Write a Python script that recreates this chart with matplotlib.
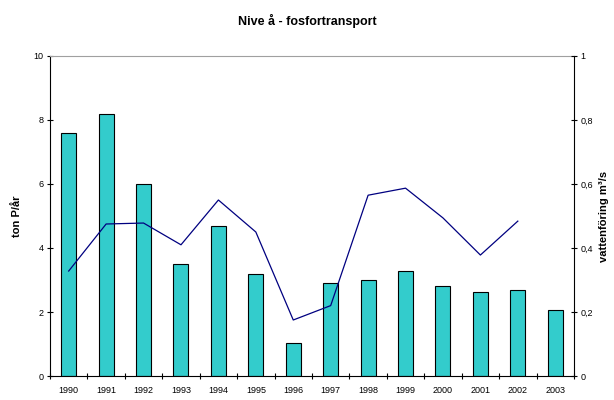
import matplotlib
matplotlib.use("Agg")
import matplotlib.pyplot as plt
import numpy as np

plt.rcParams['font.family'] = ['Liberation Sans', 'DejaVu Sans']

# data
years = ['1990', '1991', '1992', '1993', '1994', '1995', '1996',
         '1997', '1998', '1999', '2000', '2001', '2002', '2003']
fosfor = [7.6, 8.2, 6.0, 3.5, 4.7, 3.2, 1.03, 2.9, 3.0, 3.28, 2.8, 2.62, 2.7, 2.05]   # ton P/år
flow = [0.328, 0.475, 0.478, 0.41, 0.55, 0.45, 0.175, 0.22, 0.565, 0.587,
        0.494, 0.378, 0.484, np.nan]   # m3/s

x = np.arange(len(years))

fig = plt.figure(figsize=(6.14, 4.0), dpi=100)
ax = fig.add_axes([0.0814, 0.06, 0.8534, 0.80])
ax.bar(x, fosfor, width=0.4, color='#33CCCC', edgecolor='black', linewidth=0.8, zorder=2)
ax.set_xlim(-0.5, len(years) - 0.5)
ax.set_ylim(0, 10)
ax.set_yticks([0, 2, 4, 6, 8, 10])
ax.set_xticks(x)
ax.set_xticklabels(years)
ax.set_xticks(np.arange(-0.5, len(years)), minor=True)
ax.tick_params(axis='x', which='major', length=0, labelsize=6.5, pad=7)
ax.tick_params(axis='x', which='minor', direction='inout', length=5, width=0.8)
ax.tick_params(axis='y', direction='inout', length=5, width=0.8, labelsize=6.5, pad=2)
ax.spines['top'].set_color('#a0a0a0')
ax.spines['right'].set_visible(False)
ax.set_ylabel('ton P/år', fontsize=8, fontweight='bold')
ax.yaxis.set_label_coords(-0.053, 0.5)

ax2 = ax.twinx()
ax2.plot(x, flow, color='#000080', linewidth=0.9, zorder=3)
ax2.set_ylim(0, 1)
ax2.set_yticks([0, 0.2, 0.4, 0.6, 0.8, 1])
ax2.set_yticklabels(['0', '0,2', '0,4', '0,6', '0,8', '1'])
ax2.tick_params(axis='y', direction='inout', length=5, width=0.8, labelsize=6.5, pad=2)
for s in ['top', 'left', 'bottom']:
    ax2.spines[s].set_visible(False)
ax2.set_ylabel('vattenföring m³/s', fontsize=8, fontweight='bold', rotation=90)
ax2.yaxis.set_label_coords(1.047, 0.5)

fig.suptitle('Nive å - fosfortransport', fontsize=9, fontweight='bold', y=0.965)

fig.savefig('out.png', dpi=100)
